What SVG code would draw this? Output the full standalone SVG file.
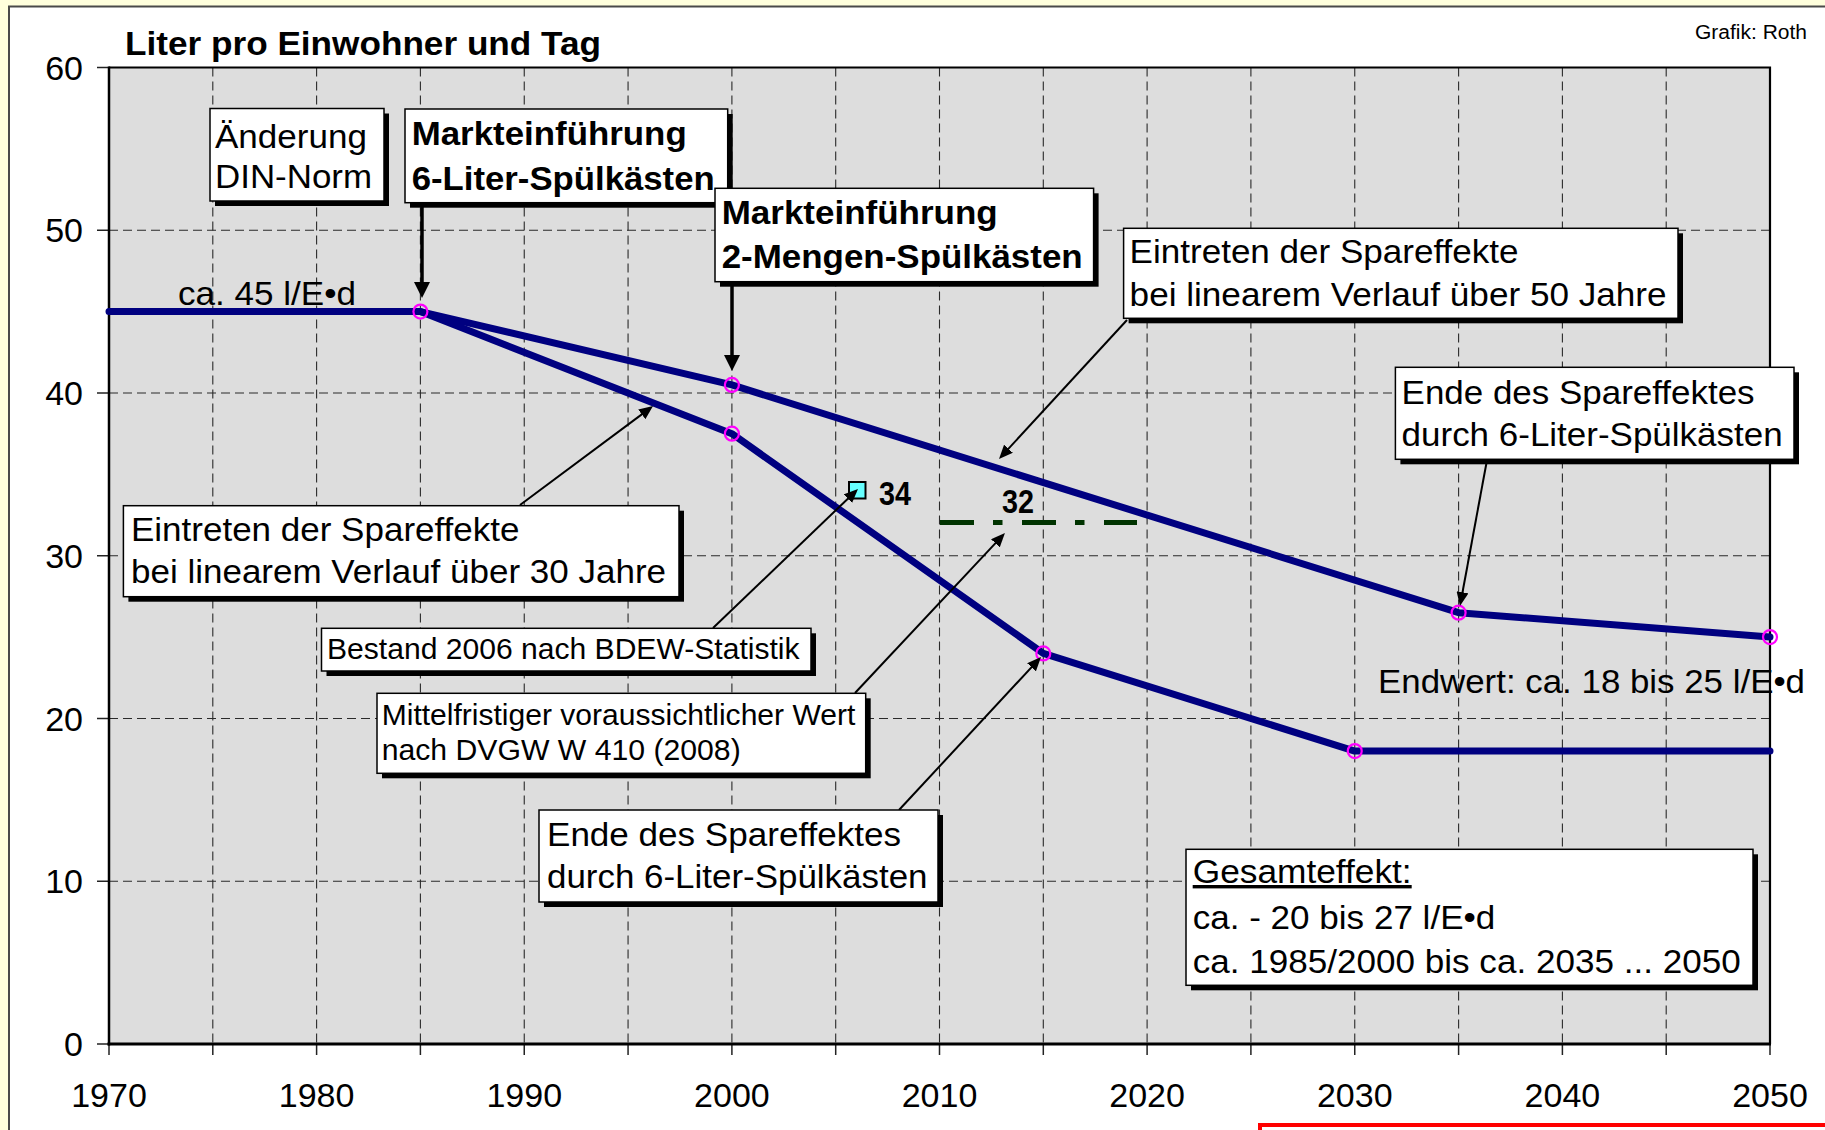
<svg xmlns="http://www.w3.org/2000/svg" width="1825" height="1130" viewBox="0 0 1825 1130">
<defs>
<style>
text{font-family:"Liberation Sans",Arial,sans-serif;fill:#000}
.lg{font-size:34px}
.bd{font-size:34px;font-weight:bold}
.sm{font-size:29px}
.ax{font-size:34px}
.grid{stroke:#2a2a2a;stroke-width:1.1;stroke-dasharray:9 5;fill:none}
.tick{stroke:#222;stroke-width:1.5}
.box{fill:#fff;stroke:#000;stroke-width:1.5}
.shadow{fill:#000}
.series{fill:none;stroke:#000080;stroke-width:7;stroke-linejoin:round;stroke-linecap:round}
.pt{fill:none;stroke:#ff00ff;stroke-width:2.2}
.thick{stroke:#000;stroke-width:3.5;fill:none;marker-end:url(#ahL)}
.thin{stroke:#000;stroke-width:2;fill:none;marker-end:url(#ahS)}
</style>
<marker id="ahL" markerUnits="userSpaceOnUse" viewBox="0 0 16 16" refX="6" refY="8" markerWidth="16" markerHeight="16" orient="auto"><path d="M0,0 L16,8 L0,16 z" fill="#000"/></marker>
<marker id="ahS" markerUnits="userSpaceOnUse" viewBox="0 0 14 12" refX="5" refY="6" markerWidth="14" markerHeight="12" orient="auto"><path d="M0,0 L14,6 L0,12 z" fill="#000"/></marker>
</defs>

<!-- background frame -->
<rect x="0" y="0" width="1825" height="1130" fill="#ffffdd"/>
<rect x="9" y="6.5" width="1900" height="1200" fill="#fff" stroke="#4a4a4a" stroke-width="2"/>

<!-- plot area -->
<g id="plot">
<rect x="109" y="67.5" width="1661" height="976.5" fill="#dddddd"/>
<g class="grid">
<line x1="109" y1="230.25" x2="1770" y2="230.25"/>
<line x1="109" y1="393" x2="1770" y2="393"/>
<line x1="109" y1="555.75" x2="1770" y2="555.75"/>
<line x1="109" y1="718.5" x2="1770" y2="718.5"/>
<line x1="109" y1="881.25" x2="1770" y2="881.25"/>
<line x1="212.8" y1="67.5" x2="212.8" y2="1044"/>
<line x1="316.6" y1="67.5" x2="316.6" y2="1044"/>
<line x1="420.4" y1="67.5" x2="420.4" y2="1044"/>
<line x1="524.25" y1="67.5" x2="524.25" y2="1044"/>
<line x1="628.06" y1="67.5" x2="628.06" y2="1044"/>
<line x1="731.9" y1="67.5" x2="731.9" y2="1044"/>
<line x1="835.7" y1="67.5" x2="835.7" y2="1044"/>
<line x1="939.5" y1="67.5" x2="939.5" y2="1044"/>
<line x1="1043.3" y1="67.5" x2="1043.3" y2="1044"/>
<line x1="1147.1" y1="67.5" x2="1147.1" y2="1044"/>
<line x1="1250.9" y1="67.5" x2="1250.9" y2="1044"/>
<line x1="1354.75" y1="67.5" x2="1354.75" y2="1044"/>
<line x1="1458.6" y1="67.5" x2="1458.6" y2="1044"/>
<line x1="1562.4" y1="67.5" x2="1562.4" y2="1044"/>
<line x1="1666.2" y1="67.5" x2="1666.2" y2="1044"/>
</g>
<g class="tick">
<line x1="97" y1="67.5" x2="109" y2="67.5"/>
<line x1="97" y1="230.25" x2="109" y2="230.25"/>
<line x1="97" y1="393" x2="109" y2="393"/>
<line x1="97" y1="555.75" x2="109" y2="555.75"/>
<line x1="97" y1="718.5" x2="109" y2="718.5"/>
<line x1="97" y1="881.25" x2="109" y2="881.25"/>
<line x1="97" y1="1044" x2="109" y2="1044"/>
<line x1="109" y1="1044" x2="109" y2="1055"/>
<line x1="212.8" y1="1044" x2="212.8" y2="1055"/>
<line x1="316.6" y1="1044" x2="316.6" y2="1055"/>
<line x1="420.4" y1="1044" x2="420.4" y2="1055"/>
<line x1="524.25" y1="1044" x2="524.25" y2="1055"/>
<line x1="628.06" y1="1044" x2="628.06" y2="1055"/>
<line x1="731.9" y1="1044" x2="731.9" y2="1055"/>
<line x1="835.7" y1="1044" x2="835.7" y2="1055"/>
<line x1="939.5" y1="1044" x2="939.5" y2="1055"/>
<line x1="1043.3" y1="1044" x2="1043.3" y2="1055"/>
<line x1="1147.1" y1="1044" x2="1147.1" y2="1055"/>
<line x1="1250.9" y1="1044" x2="1250.9" y2="1055"/>
<line x1="1354.75" y1="1044" x2="1354.75" y2="1055"/>
<line x1="1458.6" y1="1044" x2="1458.6" y2="1055"/>
<line x1="1562.4" y1="1044" x2="1562.4" y2="1055"/>
<line x1="1666.2" y1="1044" x2="1666.2" y2="1055"/>
<line x1="1770" y1="1044" x2="1770" y2="1055"/>
</g>
<path d="M109,67.5 H1770 V1044" fill="none" stroke="#000" stroke-width="2.2"/>
<line x1="109" y1="66.5" x2="109" y2="1045.5" stroke="#000" stroke-width="2.5"/>
<line x1="107.5" y1="1044" x2="1771" y2="1044" stroke="#000" stroke-width="3"/>
</g>

<g id="axis-labels" class="ax">
<text x="83" y="79.5" text-anchor="end">60</text>
<text x="83" y="242.25" text-anchor="end">50</text>
<text x="83" y="405" text-anchor="end">40</text>
<text x="83" y="567.75" text-anchor="end">30</text>
<text x="83" y="730.5" text-anchor="end">20</text>
<text x="83" y="893.25" text-anchor="end">10</text>
<text x="83" y="1056" text-anchor="end">0</text>
<text x="109" y="1107" text-anchor="middle">1970</text>
<text x="316.6" y="1107" text-anchor="middle">1980</text>
<text x="524.25" y="1107" text-anchor="middle">1990</text>
<text x="731.9" y="1107" text-anchor="middle">2000</text>
<text x="939.5" y="1107" text-anchor="middle">2010</text>
<text x="1147.1" y="1107" text-anchor="middle">2020</text>
<text x="1354.75" y="1107" text-anchor="middle">2030</text>
<text x="1562.4" y="1107" text-anchor="middle">2040</text>
<text x="1770" y="1107" text-anchor="middle">2050</text>
</g>

<g id="title">
<text class="bd" x="125" y="55" font-size="33" textLength="476" lengthAdjust="spacingAndGlyphs">Liter pro Einwohner und Tag</text>
<text x="1695" y="39" font-size="20" textLength="112" lengthAdjust="spacingAndGlyphs">Grafik: Roth</text>
</g>

<!-- data series -->
<g id="series-50">
<polyline class="series" points="109,311.6 420.4,311.6 731.9,384.9 1458.6,612.7 1770,637.1"/>
</g>
<g id="series-30">
<polyline class="series" points="420.4,311.6 731.9,433.7 1043.3,653.4 1354.75,751.05 1770,751.05"/>
</g>
<g id="points">
<circle class="pt" cx="420.4" cy="311.6" r="7"/>
<circle class="pt" cx="731.9" cy="384.9" r="7"/>
<circle class="pt" cx="731.9" cy="433.7" r="7"/>
<circle class="pt" cx="1043.3" cy="653.4" r="7"/>
<circle class="pt" cx="1354.75" cy="751.05" r="7"/>
<circle class="pt" cx="1458.6" cy="612.7" r="7"/>
<circle class="pt" cx="1770" cy="637.1" r="7"/>
</g>

<g id="bdew-2006">
<rect x="849" y="482" width="16.5" height="16.5" fill="#66ffff" stroke="#000" stroke-width="2"/>
<text class="bd" x="879" y="505" font-size="28" textLength="32" lengthAdjust="spacingAndGlyphs">34</text>
</g>
<g id="dvgw-w410">
<line x1="940" y1="522.5" x2="1137" y2="522.5" stroke="#003300" stroke-width="5" stroke-dasharray="34 19 9.5 19.5"/>
<text class="bd" x="1002" y="513" font-size="28" textLength="32" lengthAdjust="spacingAndGlyphs">32</text>
</g>

<g id="free-labels" class="lg">
<text x="178" y="305" textLength="178" lengthAdjust="spacingAndGlyphs">ca. 45 l/E•d</text>
<text x="1378" y="693" textLength="427" lengthAdjust="spacingAndGlyphs">Endwert: ca. 18 bis 25 l/E•d</text>
</g>

<!-- connectors -->
<g id="connectors">
<line class="thick" x1="422" y1="203" x2="422" y2="288"/>
<line class="thick" x1="732" y1="283" x2="732" y2="361"/>
<line class="thin" x1="1127" y1="320" x2="1005.1" y2="452.4"/>
<line class="thin" x1="520" y1="505" x2="645.8" y2="411.4"/>
<line class="thin" x1="713" y1="628" x2="851.5" y2="495.2"/>
<line class="thin" x1="855" y1="693" x2="998.8" y2="539.6"/>
<line class="thin" x1="899" y1="810" x2="1034.9" y2="663.6"/>
<line class="thin" x1="1487" y1="460" x2="1461.6" y2="597.2"/>
</g>

<!-- annotation boxes -->
<g id="box-din">
<rect class="shadow" x="215" y="113.5" width="174" height="92.5"/>
<rect class="box" x="210" y="108.5" width="174" height="92.5"/>
<text class="lg" x="215" y="148" textLength="152" lengthAdjust="spacingAndGlyphs">Änderung</text>
<text class="lg" x="215" y="188" textLength="157" lengthAdjust="spacingAndGlyphs">DIN-Norm</text>
</g>
<g id="box-6liter">
<rect class="shadow" x="410" y="114" width="322.7" height="93.7"/>
<rect class="box" x="405" y="109" width="322.7" height="93.7"/>
<text class="bd" x="411.7" y="145" textLength="275" lengthAdjust="spacingAndGlyphs">Markteinführung</text>
<text class="bd" x="411.7" y="190" textLength="303" lengthAdjust="spacingAndGlyphs">6-Liter-Spülkästen</text>
</g>
<g id="box-2mengen">
<rect class="shadow" x="720" y="193.3" width="378.6" height="93.4"/>
<rect class="box" x="715" y="188.3" width="378.6" height="93.4"/>
<text class="bd" x="721.7" y="224" textLength="276" lengthAdjust="spacingAndGlyphs">Markteinführung</text>
<text class="bd" x="721.7" y="268" textLength="361" lengthAdjust="spacingAndGlyphs">2-Mengen-Spülkästen</text>
</g>
<g id="box-50jahre">
<rect class="shadow" x="1128.6" y="233.3" width="554.4" height="90"/>
<rect class="box" x="1123.6" y="228.3" width="554.4" height="90"/>
<text class="lg" x="1129.6" y="263" textLength="389" lengthAdjust="spacingAndGlyphs">Eintreten der Spareffekte</text>
<text class="lg" x="1129.6" y="306" textLength="537" lengthAdjust="spacingAndGlyphs">bei linearem Verlauf über 50 Jahre</text>
</g>
<g id="box-ende-rechts">
<rect class="shadow" x="1400.4" y="372.3" width="398.6" height="92"/>
<rect class="box" x="1395.4" y="367.3" width="398.6" height="92"/>
<text class="lg" x="1401.6" y="404" textLength="353" lengthAdjust="spacingAndGlyphs">Ende des Spareffektes</text>
<text class="lg" x="1401.6" y="446" textLength="381" lengthAdjust="spacingAndGlyphs">durch 6-Liter-Spülkästen</text>
</g>
<g id="box-30jahre">
<rect class="shadow" x="128.4" y="510.7" width="555.6" height="91"/>
<rect class="box" x="123.4" y="505.7" width="555.6" height="91"/>
<text class="lg" x="131" y="541" textLength="388.5" lengthAdjust="spacingAndGlyphs">Eintreten der Spareffekte</text>
<text class="lg" x="131" y="583" textLength="535" lengthAdjust="spacingAndGlyphs">bei linearem Verlauf über 30 Jahre</text>
</g>
<g id="box-bestand">
<rect class="shadow" x="326.5" y="633.3" width="489.5" height="42.7"/>
<rect class="box" x="321.5" y="628.3" width="489.5" height="42.7"/>
<text class="sm" x="327" y="659" textLength="472.6" lengthAdjust="spacingAndGlyphs">Bestand 2006 nach BDEW-Statistik</text>
</g>
<g id="box-mittelfristig">
<rect class="shadow" x="382" y="698.3" width="488.7" height="80"/>
<rect class="box" x="377" y="693.3" width="488.7" height="80"/>
<text class="sm" x="381.7" y="725" textLength="473.6" lengthAdjust="spacingAndGlyphs">Mittelfristiger voraussichtlicher Wert</text>
<text class="sm" x="381.7" y="760" textLength="359" lengthAdjust="spacingAndGlyphs">nach DVGW W 410 (2008)</text>
</g>
<g id="box-ende-unten">
<rect class="shadow" x="544" y="815" width="399" height="92"/>
<rect class="box" x="539" y="810" width="399" height="92"/>
<text class="lg" x="547" y="846" textLength="354" lengthAdjust="spacingAndGlyphs">Ende des Spareffektes</text>
<text class="lg" x="547" y="888" textLength="380.5" lengthAdjust="spacingAndGlyphs">durch 6-Liter-Spülkästen</text>
</g>
<g id="box-gesamt">
<rect class="shadow" x="1191" y="854.3" width="567" height="136"/>
<rect class="box" x="1186" y="849.3" width="567" height="136"/>
<text class="lg" x="1192.7" y="883" textLength="219" lengthAdjust="spacingAndGlyphs" text-decoration="underline">Gesamteffekt:</text>
<text class="lg" x="1192.7" y="929" textLength="302.6" lengthAdjust="spacingAndGlyphs">ca. - 20 bis 27 l/E•d</text>
<text class="lg" x="1192.7" y="973" textLength="548" lengthAdjust="spacingAndGlyphs">ca. 1985/2000 bis ca. 2035 ... 2050</text>
</g>

<g id="red-frame">
<rect x="1260" y="1125" width="600" height="60" fill="#fff" stroke="#ff0000" stroke-width="4"/>
</g>
</svg>
